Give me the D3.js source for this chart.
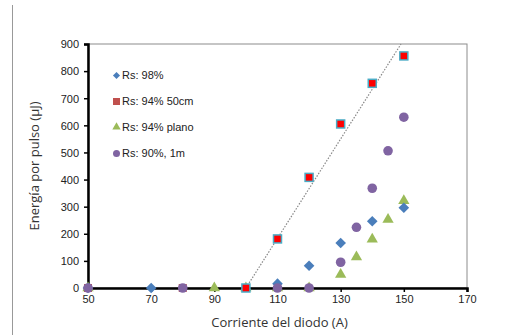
<html>
<head>
<meta charset="utf-8">
<script src="https://d3js.org/d3.v7.min.js"></script>
<style>
body { margin: 0; background: #fff; }
text { font-family: "Liberation Sans", Arial, sans-serif; fill: #222; }
.title { font-family: "Open Sans", "Noto Sans", sans-serif; fill: #333; }
</style>
</head>
<body>
<svg width="507" height="335"></svg>
<script>
// series data
var s98_x = [50, 70, 110, 120, 130, 140, 150];
var s98_y = [0, 0, 16, 82, 166, 246, 296];
var s94_x = [50, 80, 100, 110, 120, 130, 140, 150];
var s94_y = [0, 0, 0, 181, 408, 605, 755, 856];
var s94p_x = [50, 90, 100, 110, 120, 130, 135, 140, 145, 150];
var s94p_y = [0, 0, 0, 0, 0, 50, 114, 180, 253, 322];
var s90_x = [50, 80, 110, 120, 130, 135, 140, 145, 150];
var s90_y = [0, 0, 0, 0, 95, 224, 368, 506, 630];
var trend_x = [100, 149.1];
var trend_y = [0, 900];
var xTicks = [50, 70, 90, 110, 130, 150, 170];
var yTicks = [0, 100, 200, 300, 400, 500, 600, 700, 800, 900];
var legendLabels = ["Rs: 98%", "Rs: 94% 50cm", "Rs: 94% plano", "Rs: 90%, 1m"];

var svg = d3.select("svg");
var pLeft = 88, pTop = 44, pRight = 467, pBottom = 288;

var x = d3.scaleLinear().domain([50, 170]).range([pLeft, pRight]);
var y = d3.scaleLinear().domain([0, 900]).range([pBottom, pTop]);

// outer chart edge
svg.append("line").attr("x1", 12.5).attr("x2", 12.5).attr("y1", 5).attr("y2", 335)
  .attr("stroke", "#999").attr("stroke-width", 1);

// plot frame
svg.append("rect").attr("x", pLeft).attr("y", pTop)
  .attr("width", pRight - pLeft).attr("height", pBottom - pTop)
  .attr("fill", "none").attr("stroke", "#8c8c8c").attr("stroke-width", 1);

// axes
var yAxis = svg.append("g").attr("transform", "translate(" + pLeft + ",0)")
  .call(d3.axisLeft(y).tickValues(yTicks).tickSize(4).tickPadding(4));
var xAxis = svg.append("g").attr("transform", "translate(0," + pBottom + ")")
  .call(d3.axisBottom(x).tickValues(xTicks).tickSize(4).tickPadding(3));
[yAxis, xAxis].forEach(function (a) {
  a.select(".domain").attr("stroke", "#000").attr("stroke-width", 2.5);
  a.selectAll(".tick line").attr("stroke", "#000").attr("stroke-width", 1.5);
  a.selectAll(".tick text").attr("fill", "#222")
    .style("font-family", "'Liberation Sans', Arial, sans-serif").style("font-size", "11px");
});
yAxis.selectAll(".tick text").attr("dy", "0.35em").attr("x", -9);

// axis titles
svg.append("text").attr("class", "title")
  .attr("x", (pLeft + pRight) / 2 + 2).attr("y", 327)
  .attr("text-anchor", "middle").style("font-size", "13px")
  .text("Corriente del diodo (A)");
svg.append("text").attr("class", "title")
  .attr("transform", "translate(39," + ((pTop + pBottom) / 2) + ") rotate(-90)")
  .attr("text-anchor", "middle").style("font-size", "13px")
  .text("Energía por pulso (µJ)");

// trend line
svg.append("line")
  .attr("x1", x(trend_x[0])).attr("y1", y(trend_y[0]))
  .attr("x2", x(trend_x[1])).attr("y2", y(trend_y[1]))
  .attr("stroke", "#888").attr("stroke-width", 1.2).attr("stroke-dasharray", "1.5,1.5");

function pts(xs, ys) { return xs.map(function (v, i) { return [v, ys[i]]; }); }

var diamond = d3.symbol().type(d3.symbolDiamond2).size(72);
var tri = d3.symbol().type(d3.symbolTriangle).size(55);

// Rs 94% plano
svg.append("g").selectAll("path").data(pts(s94p_x, s94p_y)).enter().append("path")
  .attr("d", tri)
  .attr("transform", function (d) { return "translate(" + x(d[0]) + "," + y(d[1]) + ")"; })
  .attr("fill", "#9bbb59");

// Rs 98%
svg.append("g").selectAll("path").data(pts(s98_x, s98_y)).enter().append("path")
  .attr("d", diamond)
  .attr("transform", function (d) { return "translate(" + x(d[0]) + "," + y(d[1]) + ")"; })
  .attr("fill", "#4a7ebb");

// Rs 94% 50cm
svg.append("g").selectAll("rect").data(pts(s94_x, s94_y)).enter().append("rect")
  .attr("x", function (d) { return x(d[0]) - 4; })
  .attr("y", function (d) { return y(d[1]) - 4; })
  .attr("width", 8).attr("height", 8)
  .attr("fill", function (d) { return d[0] >= 100 ? "#ff0000" : "#c0504d"; })
  .attr("stroke", function (d) { return d[0] >= 100 ? "#4bacc6" : "none"; })
  .attr("stroke-width", 1.5);

// Rs 90%, 1m
svg.append("g").selectAll("circle").data(pts(s90_x, s90_y)).enter().append("circle")
  .attr("cx", function (d) { return x(d[0]); })
  .attr("cy", function (d) { return y(d[1]); })
  .attr("r", 4.8).attr("fill", "#8064a2");

// legend
var lg = svg.append("g");
legendLabels.forEach(function (t, i) {
  var ly = 75.5 + i * 26, mx = 116.5;
  if (i === 0) lg.append("path").attr("d", d3.symbol().type(d3.symbolDiamond2).size(32))
    .attr("transform", "translate(" + mx + "," + ly + ")").attr("fill", "#4a7ebb");
  if (i === 1) lg.append("rect").attr("x", mx - 3.5).attr("y", ly - 3.5)
    .attr("width", 7).attr("height", 7).attr("fill", "#c0504d");
  if (i === 2) lg.append("path").attr("d", d3.symbol().type(d3.symbolTriangle).size(30))
    .attr("transform", "translate(" + mx + "," + (ly - 0.5) + ")").attr("fill", "#9bbb59");
  if (i === 3) lg.append("circle").attr("cx", mx).attr("cy", ly).attr("r", 3.5).attr("fill", "#8064a2");
  lg.append("text").attr("x", 122).attr("y", ly).attr("dy", "0.35em")
    .style("font-size", "11px").text(t);
});
</script>
</body>
</html>
